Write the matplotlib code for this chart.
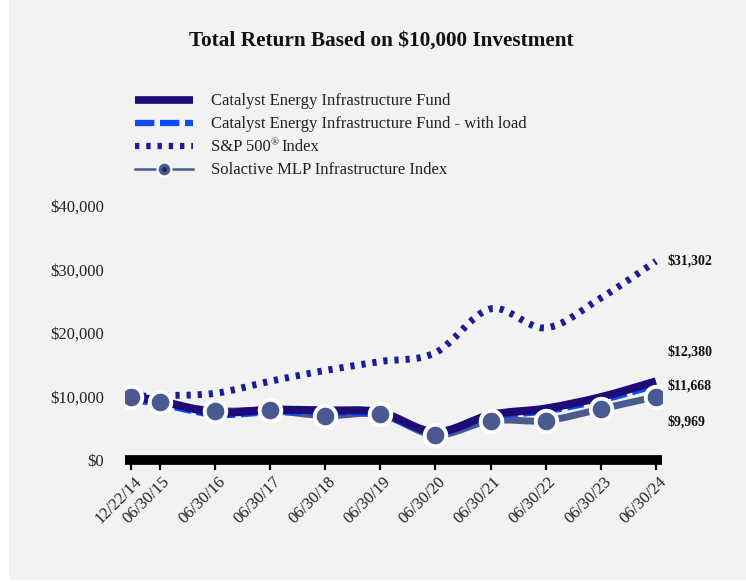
import matplotlib
matplotlib.use('Agg')
import matplotlib.pyplot as plt
import matplotlib.dates as mdates
import matplotlib.transforms as mtransforms
from matplotlib.patches import Rectangle, PathPatch
from matplotlib.path import Path
from matplotlib.lines import Line2D
import numpy as np
import pandas as pd

plt.rcParams['font.family'] = ['Liberation Serif', 'DejaVu Serif']

# ── data ────────────────────────────────────────────────────────────────────
dates = ['2014-12-22', '2015-06-30', '2016-06-30', '2017-06-30', '2018-06-30',
         '2019-06-30', '2020-06-30', '2021-06-30', '2022-06-30', '2023-06-30',
         '2024-06-30']
fund = [10000, 9300, 7500, 7900, 7800, 7500, 4400, 7100, 8100, 9900, 12380]
fund_load = [9425, 8760, 7070, 7450, 7350, 7070, 4150, 6690, 7630, 9330, 11668]
sp500 = [10000, 10120, 10500, 12400, 14100, 15500, 16900, 23800, 20800, 25500, 31302]
solactive = [10000, 9090, 7770, 7800, 6980, 7190, 3940, 6200, 6200, 8030, 9969]

names = ['Catalyst Energy Infrastructure Fund',
         'Catalyst Energy Infrastructure Fund - with load',
         'S&P 500',
         'Solactive MLP Infrastructure Index']
end_labels = ['$12,380', '$11,668', '$31,302', '$9,969']

C_FUND = '#1E0B78'
C_LOAD = '#0A4CF8'
C_SP = '#1B1D94'
C_SOL = '#4A5A90'
BG = '#F2F2F2'
W, H = 746, 582

x = mdates.date2num(pd.to_datetime(dates))

fig = plt.figure(figsize=(W / 100, H / 100), dpi=100)
fig.patch.set_facecolor('white')
fig.patches.append(Rectangle((9 / W, 1 - 580 / H), 1, 1, transform=fig.transFigure,
                             facecolor=BG, edgecolor='none', zorder=-10))

ax = fig.add_axes([125 / W, 1 - 460 / H, (662 - 125) / W, (460 - 206) / H])
ax.set_facecolor('none')
pad_days = 40
ax.set_xlim(x[0] - pad_days, x[-1] + pad_days)
ax.set_ylim(0, 40000)


# smooth (spline-like) line through the points, drawn as a bezier path
def smooth(xs, ys, **kw):
    pts = np.column_stack([xs, ys]).astype(float)
    verts = [pts[0]]
    codes = [Path.MOVETO]
    n = len(pts)
    for i in range(n - 1):
        p0 = pts[i - 1] if i > 0 else pts[i]
        p1, p2 = pts[i], pts[i + 1]
        p3 = pts[i + 2] if i + 2 < n else pts[i + 1]
        c1 = p1 + (p2 - p0) / 6.0
        c2 = p2 - (p3 - p1) / 6.0
        verts += [c1, c2, p2]
        codes += [Path.CURVE4] * 3
    patch = PathPatch(Path(verts, codes), fill=False, **kw)
    ax.add_patch(patch)
    return patch


smooth(x, solactive, edgecolor=C_SOL, linewidth=5.0, zorder=2, capstyle='butt')
smooth(x, fund_load, edgecolor=C_LOAD, linewidth=4.0, linestyle=(0, (3.0, 1.0)),
       zorder=3, capstyle='butt')
smooth(x, fund, edgecolor=C_FUND, linewidth=5.8, zorder=4, capstyle='butt')
smooth(x, sp500, edgecolor=C_SP, linewidth=5.0, linestyle=(0, (0.6, 1.0)),
       zorder=5, capstyle='butt')
ax.plot(x, solactive, linestyle='none', marker='o', markersize=15.5,
        markerfacecolor=C_SOL, markeredgecolor='white', markeredgewidth=2.8, zorder=6)

# end value labels
finals = [fund[-1], fund_load[-1], sp500[-1], solactive[-1]]
offsets = [21, 0, 0, -18]
for val, lab, dy in zip(finals, end_labels, offsets):
    ax.annotate(lab, xy=(x[-1], val), xytext=(8, dy), textcoords='offset points',
                ha='left', va='center', fontsize=10, fontweight='bold', color='#111111')

# axes styling
for s in ['top', 'right', 'left']:
    ax.spines[s].set_visible(False)
ax.spines['bottom'].set_linewidth(7)
ax.spines['bottom'].set_color('black')
ax.spines['bottom'].set_capstyle('butt')

ax.set_yticks([0, 10000, 20000, 30000, 40000])
ax.set_yticklabels(['$0', '$10,000', '$20,000', '$30,000', '$40,000'])
ax.tick_params(axis='y', length=0, pad=15, labelsize=12, labelcolor='#222222')

ax.set_xticks(x)
ax.set_xticklabels(pd.to_datetime(dates).strftime('%m/%d/%y'))
ax.tick_params(axis='x', direction='out', length=7, width=1.6, color='black',
               pad=7, labelsize=12, labelcolor='#222222')
shift = mtransforms.ScaledTranslation(8 / 100, 0, fig.dpi_scale_trans)
for lbl in ax.get_xticklabels():
    lbl.set_rotation(45)
    lbl.set_ha('right')
    lbl.set_va('center')
    lbl.set_rotation_mode('anchor')
    lbl.set_transform(lbl.get_transform() + shift)

# title
fig.text(381 / W, 1 - 41 / H, 'Total Return Based on $10,000 Investment',
         ha='center', va='center', fontsize=15.3, fontweight='bold', color='#111111')

# ── legend (drawn by hand, pixel rows) ──────────────────────────────────────
rows = [100, 123, 146, 169]
hx0, hx1, tx = 135, 193, 211


def fx(px):
    return px / W


def fy(py):
    return 1 - py / H


handle_styles = [
    dict(color=C_FUND, linewidth=5.5, solid_capstyle='butt'),
    dict(color=C_LOAD, linewidth=4.5, linestyle=(0, (3.1, 0.9)), dash_capstyle='butt'),
    dict(color=C_SP, linewidth=4.5, linestyle=(0, (0.7, 1.1)), dash_capstyle='butt'),
    dict(color=C_SOL, linewidth=1.8),
]
texts = []
for ry, style, name in zip(rows, handle_styles, names):
    fig.add_artist(Line2D([fx(hx0), fx(hx1)], [fy(ry), fy(ry)],
                          transform=fig.transFigure, **style))
    texts.append(fig.text(fx(tx), fy(ry + 5), name, ha='left', va='baseline',
                          fontsize=12, color='#222222'))

# registered mark as a small raised glyph, then the rest of the S&P label
fig.canvas.draw()
bb = texts[2].get_window_extent()
reg = fig.text(bb.x1 / W, fy(rows[2] - 1), '®', ha='left', va='baseline',
               fontsize=7.5, color='#222222')
fig.canvas.draw()
bb2 = reg.get_window_extent()
fig.text(bb2.x1 / W + 3 / W, fy(rows[2] + 5), 'Index', ha='left', va='baseline',
         fontsize=12, color='#222222')

mid = (hx0 + hx1) / 2
fig.add_artist(Line2D([fx(mid)], [fy(rows[3])], transform=fig.transFigure,
                      linestyle='none', marker='o', markersize=10,
                      markerfacecolor=C_SOL, markeredgecolor='white', markeredgewidth=1.6))
fig.add_artist(Line2D([fx(mid)], [fy(rows[3])], transform=fig.transFigure,
                      linestyle='none', marker='o', markersize=3.5,
                      markerfacecolor='#1E2550', markeredgecolor='none'))

fig.savefig('out.png', dpi=100, facecolor='white')
